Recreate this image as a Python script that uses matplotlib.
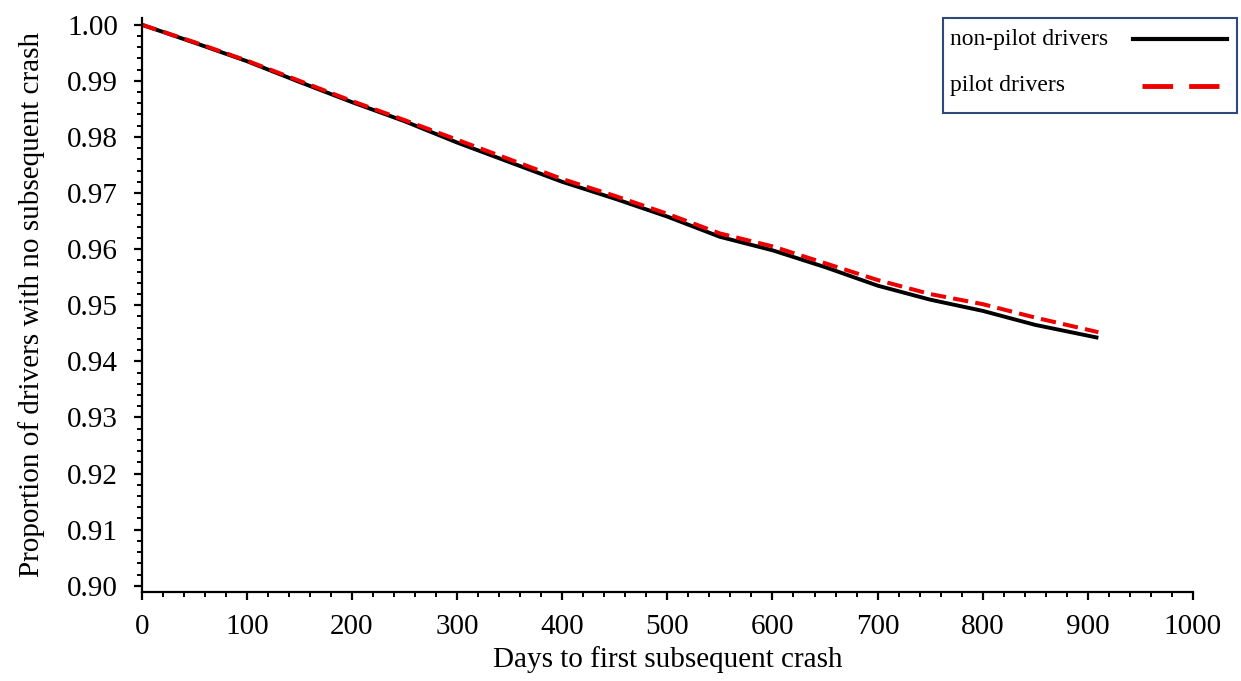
import matplotlib
matplotlib.use("Agg")
import matplotlib.pyplot as plt
from matplotlib.lines import Line2D
from matplotlib.patches import Rectangle
from matplotlib.ticker import MultipleLocator, FormatStrFormatter

plt.rcParams['font.family'] = ['Liberation Serif', 'DejaVu Serif']

# days since first crash
days = [0, 50, 100, 150, 200, 250, 300, 350, 400, 450, 500, 550, 600, 650,
        700, 750, 800, 850, 910]
# proportion with no subsequent crash
non_pilot = [1.000, 0.9968, 0.9935, 0.9898, 0.9862, 0.9828, 0.9790, 0.9755,
             0.9720, 0.9690, 0.9658, 0.9622, 0.9598, 0.9568, 0.9535, 0.9510,
             0.9490, 0.9465, 0.9442]
pilot = [1.000, 0.9969, 0.9936, 0.9900, 0.9864, 0.9830, 0.9795, 0.9760,
         0.9725, 0.9695, 0.9663, 0.9628, 0.9605, 0.9575, 0.9545, 0.9520,
         0.9502, 0.9478, 0.9452]
labels = ['non-pilot drivers', 'pilot drivers']

W, H = 1241, 681
fig = plt.figure(figsize=(W / 100, H / 100), dpi=100)
ax = fig.add_axes([0.1142, 0.1307, 0.8471, 0.8429])

ax.plot(days, non_pilot, color='black', lw=2.8, solid_capstyle='butt')
ax.plot(days, pilot, color='#ee0000', lw=2.9, dashes=(3.8, 1.8))

ax.set_xlim(0, 1000)
ax.set_ylim(0.8989, 1.0012)
ax.xaxis.set_major_locator(MultipleLocator(100))
ax.xaxis.set_minor_locator(MultipleLocator(20))
ax.yaxis.set_major_locator(MultipleLocator(0.01))
ax.yaxis.set_minor_locator(MultipleLocator(0.002))
ax.yaxis.set_major_formatter(FormatStrFormatter('%.2f'))

for s in ['top', 'right']:
    ax.spines[s].set_visible(False)
for s in ['left', 'bottom']:
    ax.spines[s].set_linewidth(1.6)

ax.tick_params(which='major', direction='out', length=6, width=1.6,
               labelsize=21)
ax.tick_params(axis='y', which='major', pad=11)
ax.tick_params(axis='x', which='major', pad=10)
ax.tick_params(which='minor', direction='out', length=3.5, width=1.4)

ax.set_xlabel('Days to first subsequent crash', fontsize=21, labelpad=4)
ax.set_ylabel('Proportion of drivers with no subsequent crash', fontsize=21,
              labelpad=16)

# legend box drawn by hand (text on the left, left aligned, key on the right)
fx = lambda px: px / W
fy = lambda py: 1 - py / H
fig.patches.append(Rectangle((fx(943), fy(113)), fx(1237) - fx(943),
                             fy(18) - fy(113), transform=fig.transFigure,
                             facecolor='white', edgecolor='#2e4a78', lw=1.5,
                             zorder=5))
fig.text(fx(950), fy(40), labels[0], fontsize=17, va='center', ha='left',
         zorder=6)
fig.text(fx(950), fy(85), labels[1], fontsize=17, va='center', ha='left',
         zorder=6)
fig.add_artist(Line2D([fx(1133), fx(1227)], [fy(39), fy(39)],
                      transform=fig.transFigure, color='black', lw=3,
                      zorder=6))
fig.add_artist(Line2D([fx(1142), fx(1219)], [fy(86), fy(86)],
                      transform=fig.transFigure, color='#ee0000', lw=3.5,
                      dashes=(6.3, 3.3), zorder=6))

fig.savefig('out.png', dpi=100)
